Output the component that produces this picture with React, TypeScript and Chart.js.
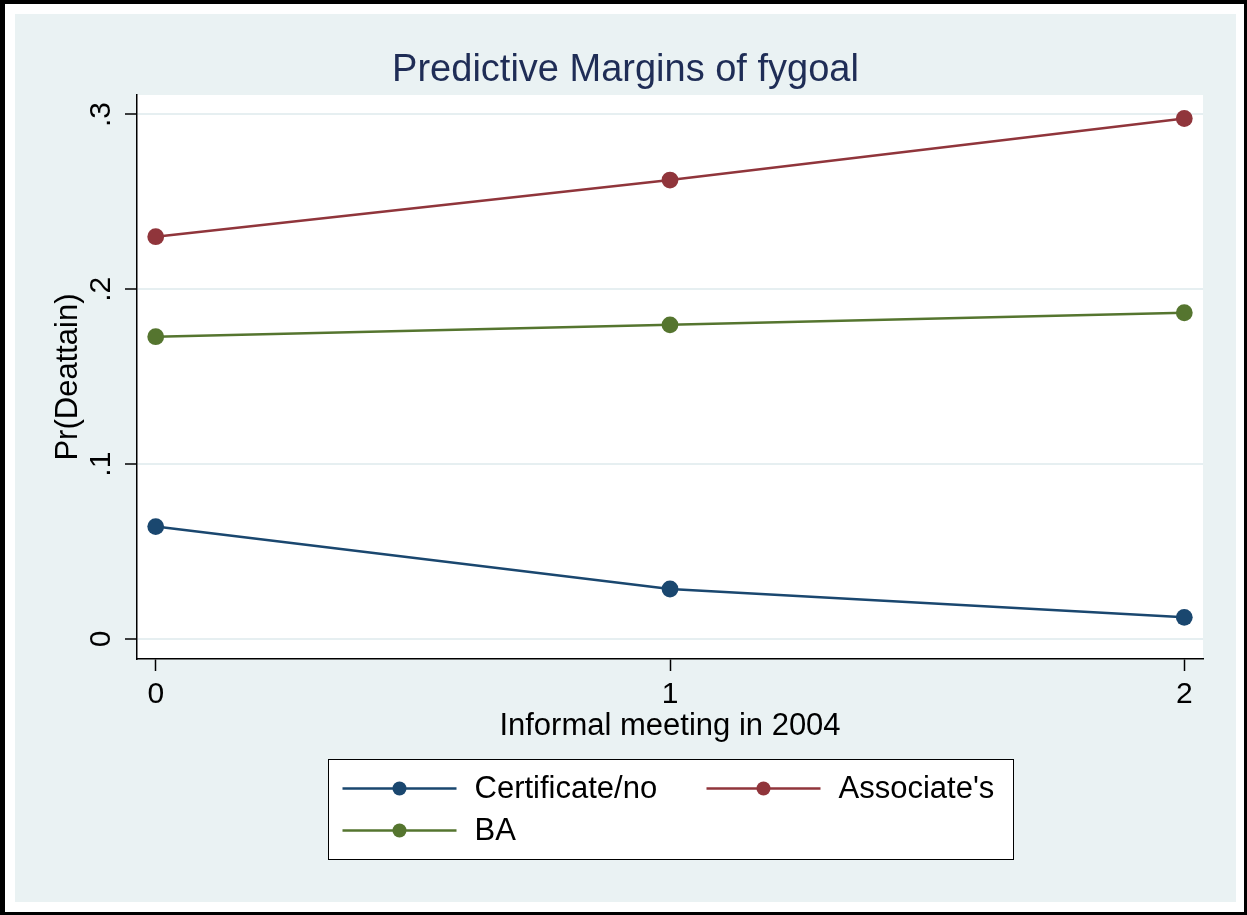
import React, { useEffect, useRef } from "react";
import { Chart, registerables } from "chart.js";

Chart.register(...registerables);

// ---- data ----
const xValues = [0, 1, 2];
const seriesNames = ["Certificate/no", "Associate's", "BA"];
const certificateValues = [0.0643, 0.0286, 0.0124];
const associateValues = [0.2301, 0.2625, 0.2977];
const baValues = [0.1729, 0.1797, 0.1866];
const seriesColors = ["#1A476F", "#90353B", "#55752F"];
const yTickValues = [0, 0.1, 0.2, 0.3];
const yTickLabels = ["0", ".1", ".2", ".3"];
const xTickValues = [0, 1, 2];
const xTickLabels = ["0", "1", "2"];
const titleText = "Predictive Margins of fygoal";
const xTitle = "Informal meeting in 2004";
const yTitle = "Pr(Deattain)";

const FONT = "'Liberation Sans', Arial, Helvetica, sans-serif";
const BG = "#EAF2F3";
const GRID = "#E6EFF1";
const LABEL_SIZE = 31;

const bgPlugin = {
  id: "bgPlugin",
  beforeDraw(chart: any) {
    const { ctx, width, height, chartArea } = chart;
    ctx.save();
    ctx.fillStyle = BG;
    ctx.fillRect(0, 0, width, height);
    ctx.fillStyle = "#ffffff";
    ctx.fillRect(
      chartArea.left,
      chartArea.top,
      chartArea.right - chartArea.left,
      chartArea.bottom - chartArea.top
    );
    ctx.restore();
  },
};

const legendPlugin = {
  id: "boxLegend",
  afterDraw(chart: any) {
    const { ctx, chartArea } = chart;
    const xScale = chart.scales.x;
    const cx = (chartArea.left + chartArea.right) / 2;
    const boxW = 685;
    const boxH = 100;
    const left = Math.round(cx - boxW / 2) + 0.5;
    const top = Math.round(xScale.bottom) + 0.5;
    ctx.save();
    ctx.fillStyle = "#ffffff";
    ctx.fillRect(left, top, boxW, boxH);
    ctx.strokeStyle = "#000000";
    ctx.lineWidth = 1;
    ctx.strokeRect(left, top, boxW, boxH);
    const colStarts = [14, 378];
    chart.data.datasets.forEach((ds: any, i: number) => {
      const col = i % 2;
      const row = Math.floor(i / 2);
      const y = top + 29 + row * 42;
      const x0 = left + colStarts[col];
      ctx.strokeStyle = ds.borderColor;
      ctx.lineWidth = 2.5;
      ctx.beginPath();
      ctx.moveTo(x0, y);
      ctx.lineTo(x0 + 114, y);
      ctx.stroke();
      ctx.fillStyle = ds.borderColor;
      ctx.beginPath();
      ctx.arc(x0 + 57, y, 7, 0, Math.PI * 2);
      ctx.fill();
      ctx.fillStyle = "#000000";
      ctx.font = `${LABEL_SIZE}px ${FONT}`;
      ctx.textAlign = "left";
      ctx.textBaseline = "middle";
      ctx.fillText(ds.label, x0 + 132, y + 1);
    });
    ctx.restore();
  },
};

export default function App() {
  const canvasRef = useRef<HTMLCanvasElement | null>(null);

  useEffect(() => {
    if (!canvasRef.current) return;
    Chart.defaults.font.family = FONT;
    const seriesValues = [certificateValues, associateValues, baValues];
    const chart = new Chart(canvasRef.current, {
      type: "line",
      data: {
        datasets: seriesNames.map((name, i) => ({
          label: name,
          data: xValues.map((x, j) => ({ x, y: seriesValues[i][j] })),
          borderColor: seriesColors[i],
          backgroundColor: seriesColors[i],
          pointBackgroundColor: seriesColors[i],
          pointBorderColor: seriesColors[i],
          pointBorderWidth: 0,
          pointRadius: 8.4,
          borderWidth: 2.5,
          tension: 0,
          fill: false,
          clip: false as any,
          xAxisID: "x",
          yAxisID: "y",
        })),
      },
      options: {
        animation: false,
        responsive: false,
        devicePixelRatio: 1,
        events: [],
        layout: { padding: { left: 0, top: 0, right: 0, bottom: 143 } },
        plugins: {
          legend: { display: false },
          tooltip: { enabled: false },
          title: {
            display: true,
            text: titleText,
            color: "#1F2D56",
            font: { size: 38, weight: "normal", family: FONT },
            padding: { top: 34, bottom: 1.4 },
          },
        },
        scales: {
          x: {
            type: "linear",
            min: -0.0364,
            max: 2.0364,
            afterBuildTicks: (s: any) => {
              s.ticks = xTickValues.map((v) => ({ value: v }));
            },
            afterFit: (s: any) => {
              s.height = 100;
            },
            ticks: {
              callback: (_v: any, i: number) => xTickLabels[i],
              font: { size: 30 },
              color: "#000000",
              padding: 6,
              maxRotation: 0,
              autoSkip: false,
            },
            grid: {
              drawOnChartArea: false,
              tickLength: 12,
              tickColor: "#000000",
              tickWidth: 1.5,
            },
            border: { color: "#000000", width: 1.5 },
            title: {
              display: true,
              text: xTitle,
              color: "#000000",
              font: { size: LABEL_SIZE },
              padding: { top: 0, bottom: 13.8 },
            },
          },
          y: {
            type: "linear",
            position: "left",
            min: -0.01144,
            max: 0.31115,
            afterBuildTicks: (s: any) => {
              s.ticks = yTickValues.map((v) => ({ value: v }));
            },
            afterFit: (s: any) => {
              s.width = 122;
            },
            ticks: {
              callback: (_v: any, i: number) => yTickLabels[i],
              font: { size: 30 },
              color: "#000000",
              padding: 11,
              minRotation: 90,
              maxRotation: 90,
              crossAlign: "center",
              autoSkip: false,
            },
            grid: {
              color: GRID,
              lineWidth: 2,
              tickLength: 12,
              tickColor: "#000000",
              tickWidth: 1.5,
            },
            border: { color: "#000000", width: 1.5 },
            title: {
              display: true,
              text: yTitle,
              color: "#000000",
              font: { size: LABEL_SIZE },
              padding: { top: 35, bottom: 0 },
            },
          },
          // empty right-hand margin (Stata's plot-region margin), no marks drawn
          yPad: {
            type: "linear",
            position: "right",
            grid: { display: false },
            border: { display: false },
            ticks: { display: false },
            title: { display: false },
            afterFit: (s: any) => {
              s.width = 33;
            },
          },
        },
      } as any,
      plugins: [bgPlugin, legendPlugin],
    });
    return () => chart.destroy();
  }, []);

  return (
    <div
      style={{
        position: "fixed",
        left: 0,
        top: 0,
        width: 1247,
        height: 915,
        boxSizing: "border-box",
        borderStyle: "solid",
        borderColor: "#000",
        borderWidth: "4px 3px 3px 5px",
        background: "#ffffff",
      }}
    >
      <canvas
        ref={canvasRef}
        width={1221}
        height={888}
        style={{ position: "absolute", left: 10, top: 10, width: 1221, height: 888, display: "block" }}
      />
    </div>
  );
}
